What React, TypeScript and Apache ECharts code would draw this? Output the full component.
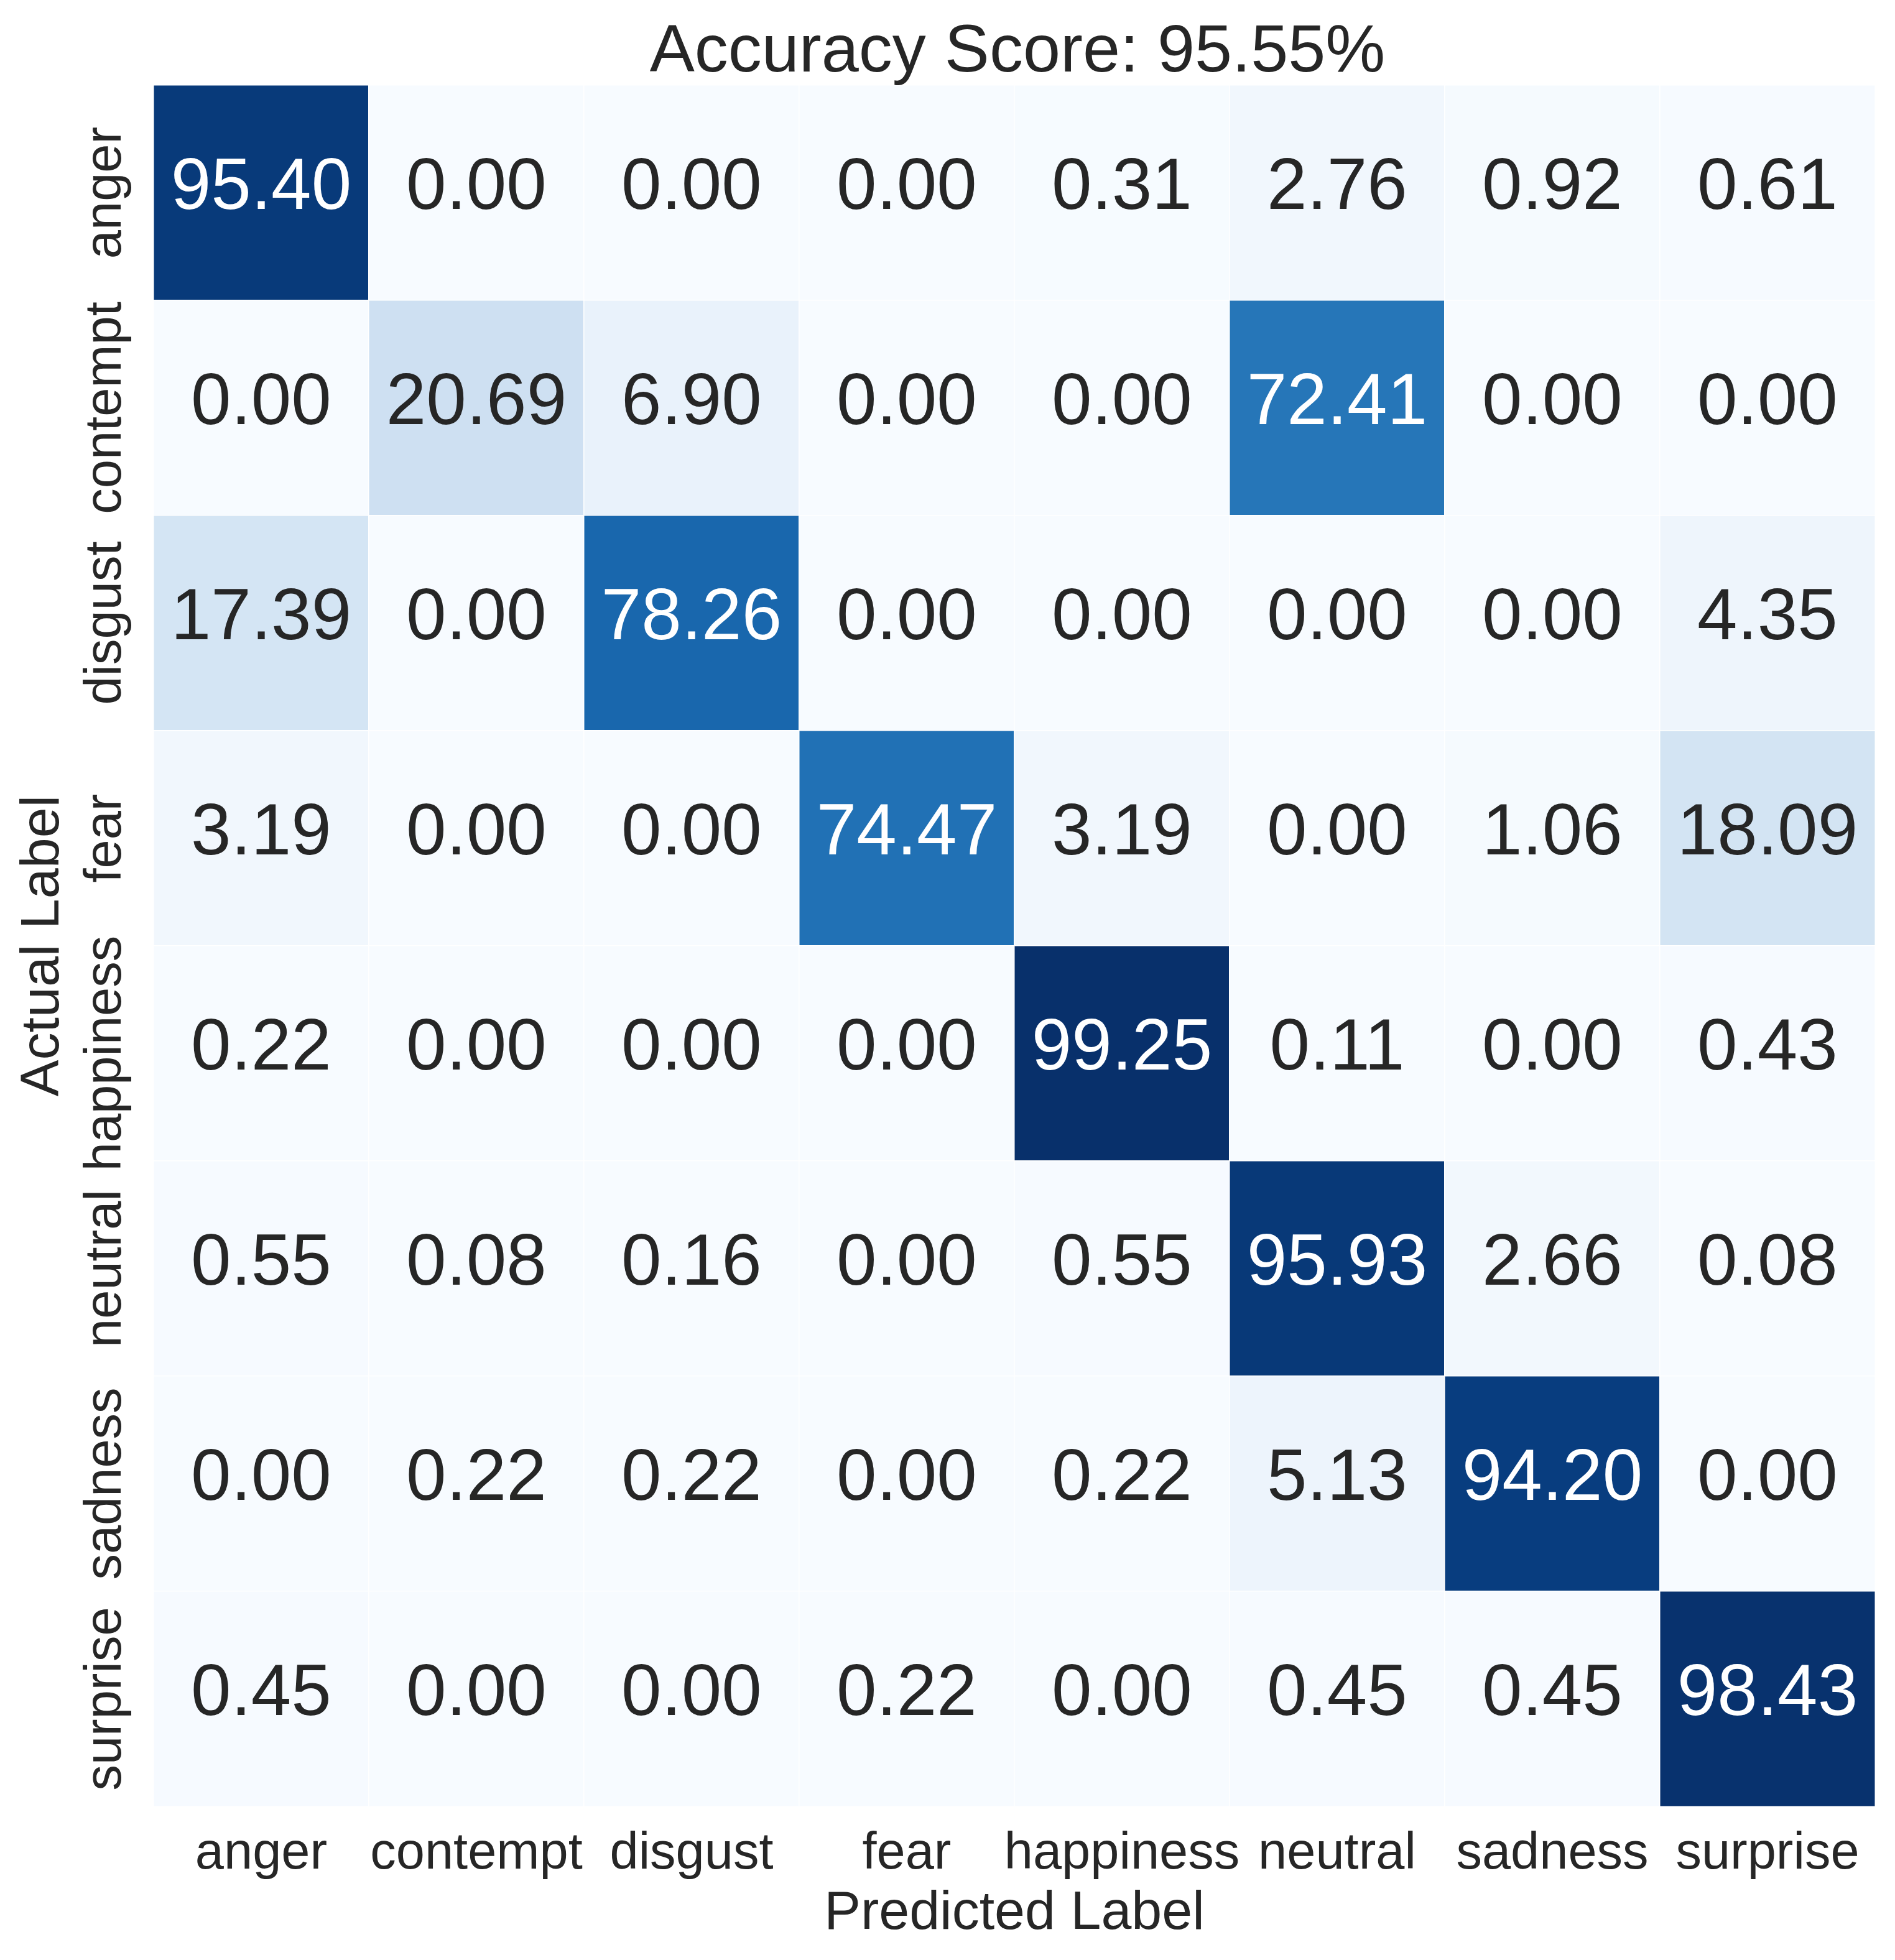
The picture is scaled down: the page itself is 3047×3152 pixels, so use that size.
import React, { useEffect, useRef } from "react";
import * as echarts from "echarts";

const labels = ["anger", "contempt", "disgust", "fear", "happiness", "neutral", "sadness", "surprise"];

const rowAnger = [95.4, 0.0, 0.0, 0.0, 0.31, 2.76, 0.92, 0.61];
const rowContempt = [0.0, 20.69, 6.9, 0.0, 0.0, 72.41, 0.0, 0.0];
const rowDisgust = [17.39, 0.0, 78.26, 0.0, 0.0, 0.0, 0.0, 4.35];
const rowFear = [3.19, 0.0, 0.0, 74.47, 3.19, 0.0, 1.06, 18.09];
const rowHappiness = [0.22, 0.0, 0.0, 0.0, 99.25, 0.11, 0.0, 0.43];
const rowNeutral = [0.55, 0.08, 0.16, 0.0, 0.55, 95.93, 2.66, 0.08];
const rowSadness = [0.0, 0.22, 0.22, 0.0, 0.22, 5.13, 94.2, 0.0];
const rowSurprise = [0.45, 0.0, 0.0, 0.22, 0.0, 0.45, 0.45, 98.43];

const rows = [rowAnger, rowContempt, rowDisgust, rowFear, rowHappiness, rowNeutral, rowSadness, rowSurprise];

const accuracy = 95.55;

const blues = ["#f7fbff", "#deebf7", "#c6dbef", "#9ecae1", "#6baed6", "#4292c6", "#2171b5", "#08519c", "#08306b"];

const FONT = "'Liberation Sans', Arial, Helvetica, sans-serif";

export default function App() {
  const ref = useRef<HTMLDivElement>(null);
  useEffect(() => {
    if (!ref.current) return;
    const chart = echarts.init(ref.current, null, { renderer: "svg" });
    const data: any[] = [];
    let vmax = 0;
    rows.forEach((r) => r.forEach((v) => { if (v > vmax) vmax = v; }));
    rows.forEach((r, yi) =>
      r.forEach((v, xi) => {
        data.push({
          value: [xi, yi, v],
          label: { color: v > 50 ? "#ffffff" : "#262626" },
        });
      })
    );
    chart.setOption({
      animation: false,
      backgroundColor: "#ffffff",
      title: {
        text: `Accuracy Score: ${accuracy.toFixed(2)}%`,
        left: 1631,
        textAlign: "center",
        top: 18,
        textStyle: { fontFamily: FONT, fontSize: 108, fontWeight: "normal", color: "#262626" },
      },
      grid: { left: 247, right: 32, top: 137, bottom: 247 },
      xAxis: {
        type: "category",
        data: labels,
        name: "Predicted Label",
        nameLocation: "middle",
        nameGap: 122,
        nameTextStyle: { fontFamily: FONT, fontSize: 88, color: "#262626" },
        axisLine: { show: false },
        axisTick: { show: false },
        splitLine: { show: false },
        axisLabel: { fontFamily: FONT, fontSize: 83, color: "#262626", margin: 30, interval: 0 },
      },
      yAxis: {
        type: "category",
        data: labels,
        inverse: true,
        name: "Actual Label",
        nameLocation: "middle",
        nameGap: 140,
        nameRotate: 90,
        nameTextStyle: { fontFamily: FONT, fontSize: 88, color: "#262626" },
        axisLine: { show: false },
        axisTick: { show: false },
        splitLine: { show: false },
        axisLabel: { fontFamily: FONT, fontSize: 83, color: "#262626", margin: 40, rotate: 90, interval: 0 },
      },
      visualMap: {
        show: false,
        type: "continuous",
        min: 0,
        max: vmax,
        dimension: 2,
        inRange: { color: blues },
      },
      series: [
        {
          type: "heatmap",
          data,
          itemStyle: { borderColor: "#ffffff", borderWidth: 1.5 },
          label: {
            show: true,
            fontFamily: FONT,
            fontSize: 116,
            offset: [0, -14],
            formatter: (p: any) => Number(p.value[2]).toFixed(2),
          },
          emphasis: { disabled: true },
        },
      ],
    });
    return () => chart.dispose();
  }, []);
  return (
    <div
      ref={ref}
      style={{ position: "absolute", left: 0, top: 0, width: 3047, height: 3152 }}
    />
  );
}
